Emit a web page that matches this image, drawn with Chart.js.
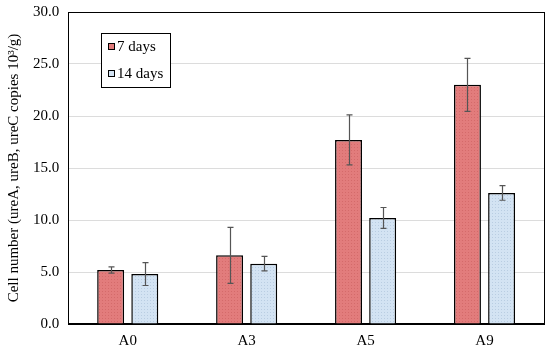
<!DOCTYPE html>
<html lang="en">
<head>
  <meta charset="UTF-8">
  <title>Cell number</title>
  <script src="https://cdn.jsdelivr.net/npm/chart.js@4.4.1/dist/chart.umd.min.js"></script>
  <style>
    html, body { margin: 0; padding: 0; background: #fff; }
    #wrap { width: 550px; height: 352px; }
  </style>
</head>
<body>
  <div id="wrap"><canvas id="myChart"></canvas></div>
  <script>
    // data
    const categories = ["A0", "A3", "A5", "A9"];
    const days7 = [5.2, 6.6, 17.7, 23.0];
    const days7Err = [0.3, 2.7, 2.4, 2.55];
    const days14 = [4.8, 5.8, 10.2, 12.6];
    const days14Err = [1.1, 0.7, 1.0, 0.7];
    const yTicks = [0, 5, 10, 15, 20, 25, 30];

    // dotted fill like the original
    function dotPattern(base, dot) {
      const c = document.createElement("canvas");
      c.width = 3; c.height = 3;
      const g = c.getContext("2d");
      g.fillStyle = base;
      g.fillRect(0, 0, 3, 3);
      g.fillStyle = dot;
      g.fillRect(0, 0, 1, 1);
      return g.createPattern(c, "repeat");
    }
    const redFill = dotPattern("#e27c7c", "#d46a6a");
    const blueFill = dotPattern("#d3e3f3", "#b9cde2");

    const font = "'Liberation Serif', 'Times New Roman', serif";

    // error bars + box around the plot + legend box
    const extras = {
      id: "extras",
      afterDatasetsDraw(chart) {
        const ctx = chart.ctx;
        const y = chart.scales.y;
        const errs = [days7Err, days14Err];
        ctx.save();
        ctx.strokeStyle = "#555";
        ctx.lineWidth = 1.2;
        chart.data.datasets.forEach((ds, i) => {
          const meta = chart.getDatasetMeta(i);
          meta.data.forEach((bar, j) => {
            const v = ds.data[j];
            const e = errs[i][j];
            const top = y.getPixelForValue(v + e);
            const bot = y.getPixelForValue(v - e);
            const x = Math.round(bar.x) + 0.5;
            ctx.beginPath();
            ctx.moveTo(x, top); ctx.lineTo(x, bot);
            ctx.moveTo(x - 3, top); ctx.lineTo(x + 3, top);
            ctx.moveTo(x - 3, bot); ctx.lineTo(x + 3, bot);
            ctx.stroke();
          });
        });
        // plot frame
        const a = chart.chartArea;
        ctx.strokeStyle = "#000";
        ctx.lineWidth = 1;
        ctx.strokeRect(Math.round(a.left) + 0.5, Math.round(a.top) + 0.5,
          Math.round(a.right - a.left), Math.round(a.bottom - a.top));
        // legend
        const lx = 101, ly = 33, lw = 69, lh = 54;
        ctx.fillStyle = "#fff";
        ctx.fillRect(lx, ly, lw, lh);
        ctx.strokeRect(lx + 0.5, ly + 0.5, lw, lh);
        const items = [["7 days", "#e27c7c"], ["14 days", "#d3e3f3"]];
        ctx.font = "15px " + font;
        ctx.textBaseline = "middle";
        items.forEach((it, k) => {
          const cy = ly + 13 + k * 27;
          ctx.fillStyle = it[1];
          ctx.fillRect(lx + 7, cy - 3, 7, 7);
          ctx.strokeStyle = "#000";
          ctx.strokeRect(lx + 7.5, cy - 2.5, 6, 6);
          ctx.fillStyle = "#000";
          ctx.fillText(it[0], lx + 16, cy + 1);
        });
        ctx.restore();
      }
    };

    new Chart(document.getElementById("myChart"), {
      type: "bar",
      data: {
        labels: categories,
        datasets: [
          { label: "7 days", data: days7, backgroundColor: redFill, borderColor: "#000", borderWidth: 1.5 },
          { label: "14 days", data: days14, backgroundColor: blueFill, borderColor: "#000", borderWidth: 1.5 }
        ]
      },
      options: {
        responsive: true,
        maintainAspectRatio: false,
        animation: false,
        layout: { padding: { top: 12, right: 6, left: 1, bottom: 2 } },
        datasets: { bar: { categoryPercentage: 0.574, barPercentage: 0.79 } },
        plugins: { legend: { display: false }, tooltip: { enabled: false } },
        scales: {
          x: {
            grid: { display: false },
            border: { color: "#000", width: 1.5 },
            ticks: { color: "#000", font: { family: font, size: 15 }, padding: 0 }
          },
          y: {
            min: 0, max: 30,
            afterBuildTicks(scale) { scale.ticks = yTicks.map(v => ({ value: v })); },
            afterFit(scale) { scale.paddingTop = 0; },
            grid: { color: "#dcdcdc", drawTicks: false },
            border: { color: "#000", width: 1 },
            ticks: {
              color: "#000", padding: 9,
              font: { family: font, size: 15 },
              callback: v => v.toFixed(1)
            },
            title: {
              display: true,
              text: "Cell number (ureA, ureB, ureC copies 10³/g)",
              color: "#000",
              font: { family: font, size: 15 },
              padding: { bottom: 1 }
            }
          }
        }
      },
      plugins: [extras]
    });
  </script>
</body>
</html>
